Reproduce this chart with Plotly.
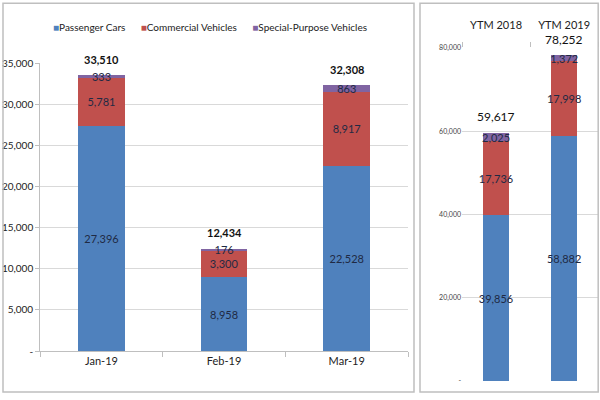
import plotly.graph_objects as go

months = ["Jan-19", "Feb-19", "Mar-19"]
passenger_m = [27396, 8958, 22528]
commercial_m = [5781, 3300, 8917]
special_m = [333, 176, 863]
totals_m = [33510, 12434, 32308]

ytm = ["YTM 2018", "YTM 2019"]
passenger_y = [39856, 58882]
commercial_y = [17736, 17998]
special_y = [2025, 1372]
totals_y = [59617, 78252]

left_ticks = [0, 5000, 10000, 15000, 20000, 25000, 30000, 35000]
left_ticktext = ["-", "5,000", "10,000", "15,000", "20,000", "25,000", "30,000", "35,000"]
right_ticks = [0, 20000, 40000, 60000, 80000]
right_ticktext = ["-", "20,000", "40,000", "60,000", "80,000"]

series_names = ["Passenger Cars", "Commercial Vehicles", "Special-Purpose Vehicles"]

FONT = "Lato, sans-serif"
BLUE = "#4F81BD"
RED = "#C0504D"
PURPLE = "#8064A2"
LBL = "#1F2A44"
colors = [BLUE, RED, PURPLE]

def fmt(v):
    return f"{v:,}"

fig = go.Figure()

left_vals = [passenger_m, commercial_m, special_m]
right_vals = [passenger_y, commercial_y, special_y]

for name, col, vals in zip(series_names, colors, left_vals):
    fig.add_trace(go.Bar(
        x=months, y=vals, name=name, marker=dict(color=col, line=dict(width=0)),
        text=[fmt(v) for v in vals], textposition="inside", insidetextanchor="middle",
        textangle=0, constraintext="none",
        textfont=dict(color=LBL, size=11, family=FONT),
        xaxis="x", yaxis="y", showlegend=False,
    ))

for name, col, vals in zip(series_names, colors, right_vals):
    fig.add_trace(go.Bar(
        x=ytm, y=vals, name=name, marker=dict(color=col, line=dict(width=0)),
        text=[fmt(v) for v in vals], textposition="inside", insidetextanchor="middle",
        textangle=0, constraintext="none",
        textfont=dict(color=LBL, size=11, family=FONT),
        xaxis="x2", yaxis="y2", showlegend=False,
    ))

annotations = []
for m, t in zip(months, totals_m):
    annotations.append(dict(x=m, y=t, xref="x", yref="y", text=f"<b>{fmt(t)}</b>",
                            showarrow=False, yanchor="middle", yshift=16,
                            font=dict(size=11, family=FONT, color="#111111")))
for m, t in zip(ytm, totals_y):
    annotations.append(dict(x=m, y=t, xref="x2", yref="y2", text=fmt(t),
                            showarrow=False, yanchor="middle", yshift=16,
                            font=dict(size=12, family=FONT, color="#111111")))

legend_text = "      ".join(
    f"<span style='color:{c}'>■</span>{n}" for n, c in zip(series_names, colors)
)
annotations.append(dict(text=legend_text, xref="paper", yref="paper", x=0.35, y=0.932,
                        xanchor="center", yanchor="middle", showarrow=False,
                        font=dict(size=10, family=FONT, color="#222222")))

fig.update_layout(
    width=600, height=400,
    margin=dict(l=0, r=0, t=0, b=0, pad=0),
    paper_bgcolor="white", plot_bgcolor="white",
    barmode="stack",
    font=dict(family=FONT, size=11, color="#222222"),
    uniformtext=dict(mode="show", minsize=10),
    showlegend=False,
    annotations=annotations,
    xaxis=dict(domain=[0.067, 0.68], anchor="y", type="category", automargin=False,
               showline=True, linecolor="#BFBFBF", ticks="outside", tickson="boundaries",
               ticklen=5, tickcolor="#BFBFBF", showgrid=False,
               tickfont=dict(size=11, family=FONT, color="#222222")),
    yaxis=dict(domain=[0.1225, 0.8425], anchor="x", range=[0, 35000], automargin=False,
               tickvals=left_ticks, ticktext=left_ticktext,
               showgrid=True, gridcolor="#D9D9D9", showline=True, linecolor="#BFBFBF",
               ticks="outside", ticklen=4, tickcolor="#BFBFBF", zeroline=False,
               tickfont=dict(size=10, family=FONT, color="#222222")),
    xaxis2=dict(domain=[0.77, 0.997], anchor="y2", type="category", side="top",
                automargin=False,
                showline=False, ticks="outside", tickson="boundaries", ticklen=5,
                tickcolor="#BFBFBF", showgrid=False, ticklabelstandoff=16,
                tickfont=dict(size=11, family=FONT, color="#222222")),
    yaxis2=dict(domain=[0.0475, 0.88], anchor="x2", range=[0, 80000], automargin=False,
                tickvals=right_ticks, ticktext=right_ticktext,
                showgrid=True, gridcolor="#D9D9D9", showline=False, zeroline=False,
                ticks="", tickfont=dict(size=7, family=FONT, color="#444444")),
    bargap=0.62,
    shapes=[
        dict(type="rect", xref="paper", yref="paper", x0=0.005, x1=0.69, y0=0.02, y1=0.992,
             line=dict(color="#BFBFBF", width=1.5)),
        dict(type="rect", xref="paper", yref="paper", x0=0.70, x1=0.997, y0=0.02, y1=0.992,
             line=dict(color="#BFBFBF", width=1.5)),
    ],
)

fig.write_html("out.html", config={"displayModeBar": False},
               post_script="document.body.style.margin='0';document.body.style.overflow='hidden';")
